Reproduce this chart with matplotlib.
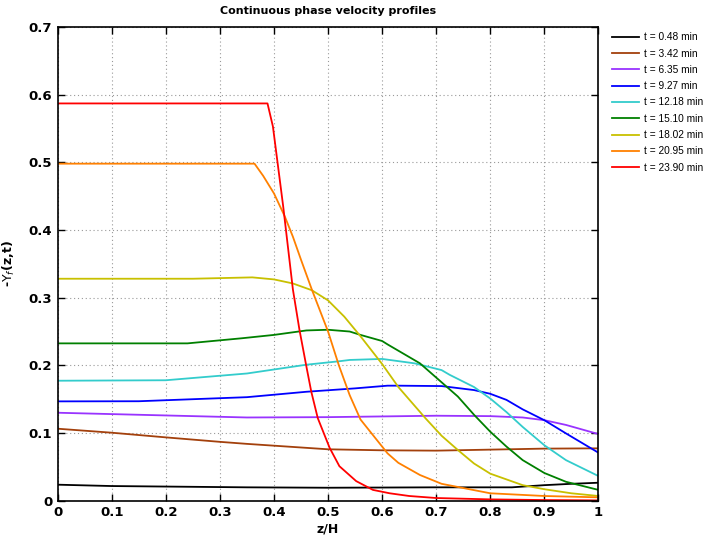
import matplotlib
matplotlib.use('Agg')
from matplotlib import pyplot as plt

# profiles (z/H, -Y_f)
times = ['0.48', '3.42', '6.35', '9.27', '12.18', '15.10', '18.02', '20.95', '23.90']
colors = ['#000000', '#a3400c', '#9933ff', '#0000ff', '#33cccc',
          '#008000', '#c8c000', '#ff8000', '#ff0000']

z_black = [0, 0.1, 0.35, 0.5, 0.7, 0.84, 0.9, 0.95, 1.0]
v_black = [0.0237, 0.0217, 0.0198, 0.0192, 0.0198, 0.0198, 0.023, 0.025, 0.0266]

z_brown = [0, 0.1, 0.2, 0.3, 0.35, 0.5, 0.6, 0.7, 0.8, 0.9, 1.0]
v_brown = [0.1064, 0.1005, 0.0936, 0.087, 0.084, 0.076, 0.0745, 0.074, 0.0755, 0.077, 0.0774]

z_purple = [0, 0.1, 0.35, 0.5, 0.7, 0.8, 0.86, 0.9, 0.94, 1.0]
v_purple = [0.130, 0.128, 0.123, 0.1235, 0.1256, 0.125, 0.123, 0.119, 0.112, 0.0985]

z_blue = [0, 0.15, 0.35, 0.46, 0.55, 0.61, 0.63, 0.71, 0.77, 0.8, 0.83, 0.86, 0.9,
          0.94, 1.0]
v_blue = [0.1468, 0.147, 0.153, 0.161, 0.166, 0.170, 0.170, 0.1694, 0.1635, 0.158, 0.149,
          0.135, 0.119, 0.0995, 0.071]

z_cyan = [0, 0.2, 0.35, 0.46, 0.52, 0.54, 0.6, 0.66, 0.71, 0.725, 0.77, 0.8, 0.83,
          0.86, 0.9, 0.94, 1.0]
v_cyan = [0.1773, 0.178, 0.188, 0.201, 0.206, 0.208, 0.2095, 0.203, 0.193, 0.186, 0.168,
          0.151, 0.131, 0.109, 0.082, 0.060, 0.0365]

z_green = [0, 0.24, 0.34, 0.4, 0.46, 0.5, 0.54, 0.56, 0.6, 0.61, 0.67, 0.71, 0.74,
           0.77, 0.8, 0.83, 0.86, 0.9, 0.94, 1.0]
v_green = [0.2325, 0.2325, 0.240, 0.245, 0.2516, 0.2526, 0.250, 0.245, 0.236, 0.231,
           0.203, 0.175, 0.154, 0.127, 0.102, 0.080, 0.060, 0.041, 0.028, 0.016]

z_yellow = [0, 0.25, 0.36, 0.4, 0.435, 0.47, 0.5, 0.53, 0.56, 0.6, 0.63, 0.68, 0.71,
            0.74, 0.77, 0.8, 0.86, 0.9, 0.95, 1.0]
v_yellow = [0.328, 0.328, 0.330, 0.327, 0.321, 0.311, 0.296, 0.272, 0.243, 0.202, 0.168,
            0.122, 0.096, 0.075, 0.055, 0.040, 0.023, 0.017, 0.011, 0.007]

z_orange = [0, 0.364, 0.38, 0.40, 0.42, 0.435, 0.45, 0.47, 0.5, 0.52, 0.54, 0.56, 0.61,
            0.63, 0.67, 0.71, 0.8, 0.9, 1.0]
v_orange = [0.498, 0.498, 0.480, 0.454, 0.420, 0.390, 0.356, 0.312, 0.250, 0.200, 0.156,
            0.120, 0.070, 0.056, 0.038, 0.025, 0.011, 0.007, 0.005]

z_red = [0, 0.388, 0.398, 0.417, 0.435, 0.447, 0.46, 0.469, 0.481, 0.503, 0.521, 0.552,
         0.583, 0.614, 0.65, 0.7, 0.8, 0.9, 1.0]
v_red = [0.587, 0.587, 0.553, 0.435, 0.312, 0.253, 0.198, 0.161, 0.122, 0.078, 0.051,
         0.029, 0.016, 0.011, 0.007, 0.004, 0.002, 0.001, 0.0005]

profiles = [(z_black, v_black), (z_brown, v_brown), (z_purple, v_purple),
            (z_blue, v_blue), (z_cyan, v_cyan), (z_green, v_green),
            (z_yellow, v_yellow), (z_orange, v_orange), (z_red, v_red)]

fig = plt.figure(figsize=(7.1, 5.39), dpi=100)
ax = fig.add_axes([0.0813, 0.0710, 0.7615, 0.8790])

for (z, v), t, c in zip(profiles, times, colors):
    ax.plot(z, v, color=c, lw=1.3, label='t = %s min' % t)

ax.set_xlim(0, 1)
ax.set_ylim(0, 0.7)
ax.set_xticks([i / 10 for i in range(11)])
ax.set_xticklabels(['0', '0.1', '0.2', '0.3', '0.4', '0.5', '0.6', '0.7', '0.8', '0.9', '1'])
ax.set_yticks([i / 10 for i in range(8)])
ax.set_yticklabels(['0', '0.1', '0.2', '0.3', '0.4', '0.5', '0.6', '0.7'])
ax.tick_params(direction='in', top=True, right=True, length=5, width=1,
               labelsize=9.5, pad=4)
for lab in ax.get_xticklabels() + ax.get_yticklabels():
    lab.set_fontweight('bold')
for s in ax.spines.values():
    s.set_linewidth(1.2)

ax.grid(True, color='#999999', linestyle=(0, (1, 2.5)), linewidth=0.8)

ax.set_title('Continuous phase velocity profiles', fontsize=8, fontweight='bold', pad=9)
ax.set_xlabel('z/H', fontsize=9, fontweight='bold', labelpad=2)
ax.set_ylabel(r'-$\Upsilon_f$(z,t)', fontsize=9, fontweight='bold', labelpad=8)

fig.legend(loc='upper left', bbox_to_anchor=(0.862, 0.940), frameon=False,
           borderaxespad=0, borderpad=0,
           prop={'family': 'Liberation Sans', 'size': 7.3},
           handlelength=2.7, handletextpad=0.45, labelspacing=0.62)

fig.savefig('out.png', dpi=100)
